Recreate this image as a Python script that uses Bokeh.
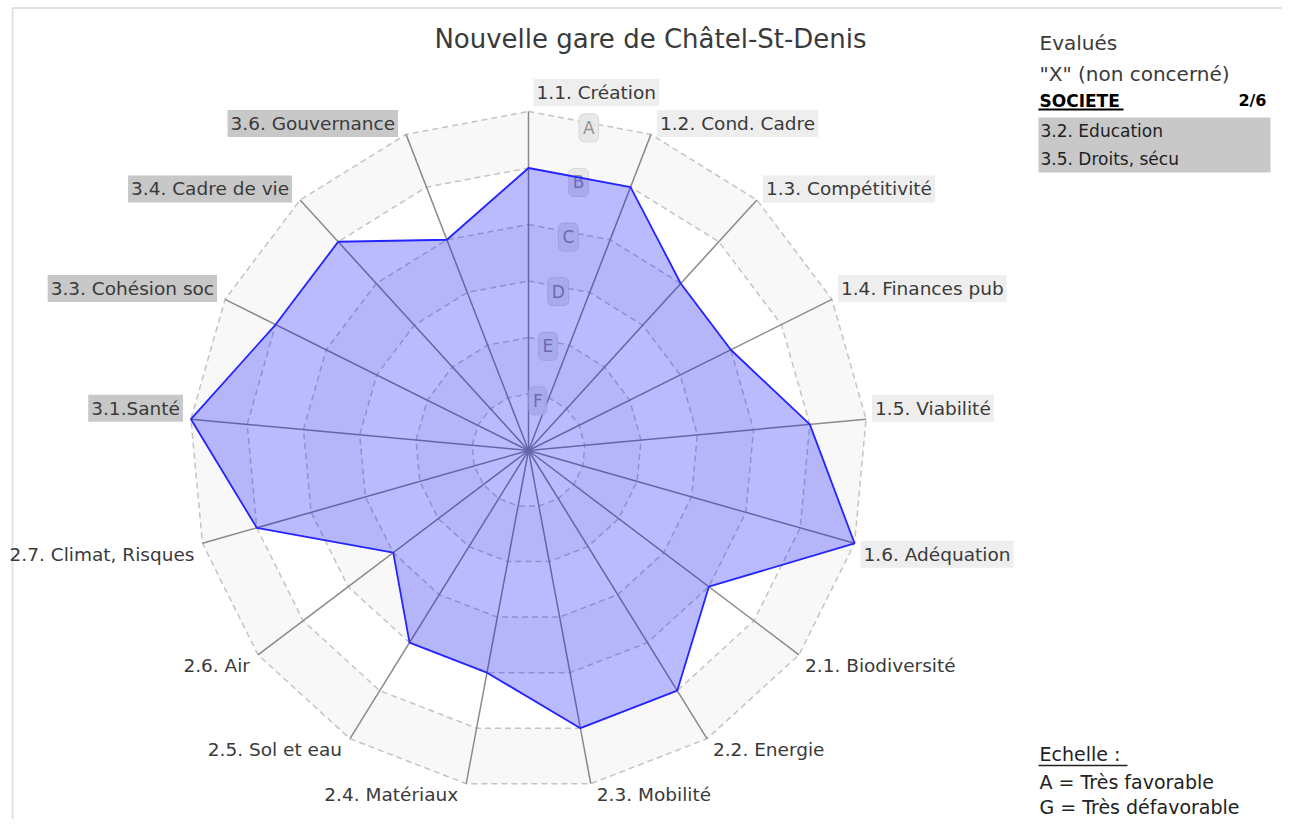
import math
from bokeh.plotting import figure
from bokeh.models import Range1d, ColumnDataSource
from bokeh.embed import file_html
from bokeh.resources import INLINE
from bokeh.core.properties import value

# ---------------- data ----------------
title = "Nouvelle gare de Châtel-St-Denis"
axes_labels = ["1.1. Création", "1.2. Cond. Cadre", "1.3. Compétitivité", "1.4. Finances pub",
               "1.5. Viabilité", "1.6. Adéquation",
               "2.1. Biodiversité", "2.2. Energie", "2.3. Mobilité", "2.4. Matériaux",
               "2.5. Sol et eau", "2.6. Air", "2.7. Climat, Risques",
               "3.1.Santé", "3.3. Cohésion soc", "3.4. Cadre de vie", "3.6. Gouvernance"]
axes_groups = ["1"] * 6 + ["2"] * 7 + ["3"] * 4
grades = ["B", "B", "C", "C", "B", "A",
          "C", "B", "B", "C", "C", "D", "B",
          "A", "B", "B", "C"]
scale_letters = ["G", "F", "E", "D", "C", "B", "A"]   # G = 0 (centre) ... A = 6 (outer ring)
ring_labels = ["A", "B", "C", "D", "E", "F"]
excluded_header = "SOCIETE"
excluded_count = "2/6"
excluded_items = ["3.2. Education", "3.5. Droits, sécu"]
legend_lines = ["A = Très favorable", "G = Très défavorable"]

FONT = value("DejaVu Sans")
TXT = "#3a3a3a"

# ---------------- geometry (layout) ----------------
W, H = 1282, 819
cx, cy = 528.0, 450.0
R = 339.0
n = len(axes_labels)
nlev = len(scale_letters) - 1
unit = R / nlev
angles = [2 * math.pi * i / n for i in range(n)]


def pt(a, r):
    return cx + r * math.sin(a), cy - r * math.cos(a)


p = figure(width=W, height=H, x_range=Range1d(0, W), y_range=Range1d(H, 0),
           output_backend="svg", toolbar_location=None, min_border=0,
           x_axis_type=None, y_axis_type=None)
p.grid.visible = False
p.outline_line_color = None
p.background_fill_color = "white"
p.border_fill_color = "white"

# panel border (top and left)
p.line([12, 12, 1290], [827, 7.5, 7.5], line_color="#e2e2e2", line_width=2)

# alternating bands
for k in range(nlev, 0, -1):
    xs, ys = zip(*[pt(a, k * unit) for a in angles])
    p.patch(list(xs), list(ys), fill_color="#f8f8f8" if (nlev - k) % 2 == 0 else "white",
            line_color=None)

# dashed rings
for k in range(1, nlev + 1):
    xs, ys = zip(*[pt(a, k * unit) for a in angles + [angles[0]]])
    p.line(list(xs), list(ys), line_color="#c4c4c4", line_width=1.5, line_dash="6 4")

# spokes
ends = [pt(a, R) for a in angles]
p.segment(x0=[cx] * n, y0=[cy] * n, x1=[e[0] for e in ends], y1=[e[1] for e in ends],
          line_color="#8a8a8a", line_width=1.5)

# ring letter labels on the bisector of the first two axes
bis = math.pi / n
rl_x, rl_y = [], []
for i, lab in enumerate(ring_labels):
    lev = nlev - i
    x, y = pt(bis, lev * unit * math.cos(bis) - 5)
    rl_x.append(x)
    rl_y.append(y)
p.text(x=rl_x, y=rl_y, text=ring_labels, text_font=FONT, text_font_size="17px",
       text_color="#939393", text_align="center", text_baseline="middle",
       background_fill_color="#e6e6e6", background_fill_alpha=0.9,
       border_line_color="#d6d6d6", border_line_alpha=0.9, padding=4, border_radius=5)

# data polygon
vals = [scale_letters.index(g) for g in grades]
dxs, dys = zip(*[pt(a, v * unit) for a, v in zip(angles, vals)])
p.patch(list(dxs), list(dys), fill_color="#0000ff", fill_alpha=0.27,
        line_color="#2424ff", line_width=1.8)

# axis labels
bg = {"1": "#eeeeee", "2": None, "3": "#c8c8c8"}
for grp in ["1", "2", "3"]:
    data = dict(x=[], y=[], t=[], al=[])
    for i, (a, lab, g) in enumerate(zip(angles, axes_labels, axes_groups)):
        if g != grp:
            continue
        vx, vy = pt(a, R)
        s, c = math.sin(a), math.cos(a)
        if abs(s) < 1e-6:
            x, al, y = vx + 5, "left", vy - 19
        elif s > 0:
            x, al = vx + 6, "left"
            y = vy - 11 if c > 0 else vy + 11
        else:
            x, al = vx - 8, "right"
            y = vy - 11 if c > 0 else vy + 11
        data["x"].append(x)
        data["y"].append(y)
        data["t"].append(lab)
        data["al"].append(al)
    src = ColumnDataSource(data)
    kw = dict(x="x", y="y", text="t", text_align="al", source=src, text_font=FONT,
              text_font_size="18.5px", text_color=TXT, text_baseline="middle")
    if bg[grp]:
        kw.update(background_fill_color=bg[grp], padding=3)
    p.text(**kw)

# title
p.text(x=[650], y=[38], text=[title], text_font=FONT, text_font_size="26px",
       text_color=TXT, text_align="center", text_baseline="middle")

# right panel: non concerned
p.text(x=[1039, 1039], y=[42, 73], text=["Evalués", "\"X\" (non concerné)"], text_font=FONT,
       text_font_size="20px", text_color=TXT, text_align="left", text_baseline="middle")
p.text(x=[1039], y=[100], text=[excluded_header], text_font=FONT, text_font_size="17px",
       text_font_style="bold", text_color="black", text_align="left", text_baseline="middle")
p.segment(x0=[1038], y0=[109], x1=[1123], y1=[109], line_color="black", line_width=2)
p.text(x=[1266], y=[100], text=[excluded_count], text_font=FONT, text_font_size="16px",
       text_font_style="bold", text_color="black", text_align="right", text_baseline="middle")
box_top = 117
row_h = 27.5
p.quad(left=[1038], right=[1270], top=[box_top], bottom=[box_top + row_h * len(excluded_items)],
       fill_color="#c8c8c8", line_color=None)
p.text(x=[1040] * len(excluded_items),
       y=[box_top + row_h * (i + 0.5) for i in range(len(excluded_items))],
       text=excluded_items, text_font=FONT, text_font_size="17px", text_color="#222222",
       text_align="left", text_baseline="middle")

# scale legend
p.text(x=[1039], y=[753], text=["Echelle :"], text_font=FONT, text_font_size="19px",
       text_color="#222222", text_align="left", text_baseline="middle")
p.segment(x0=[1038], y0=[765], x1=[1127], y1=[765], line_color="#222222", line_width=1.5)
p.text(x=[1039, 1039], y=[781, 806], text=legend_lines, text_font=FONT, text_font_size="19px",
       text_color="#222222", text_align="left", text_baseline="middle")

open("out.html", "w").write(file_html(p, INLINE))
